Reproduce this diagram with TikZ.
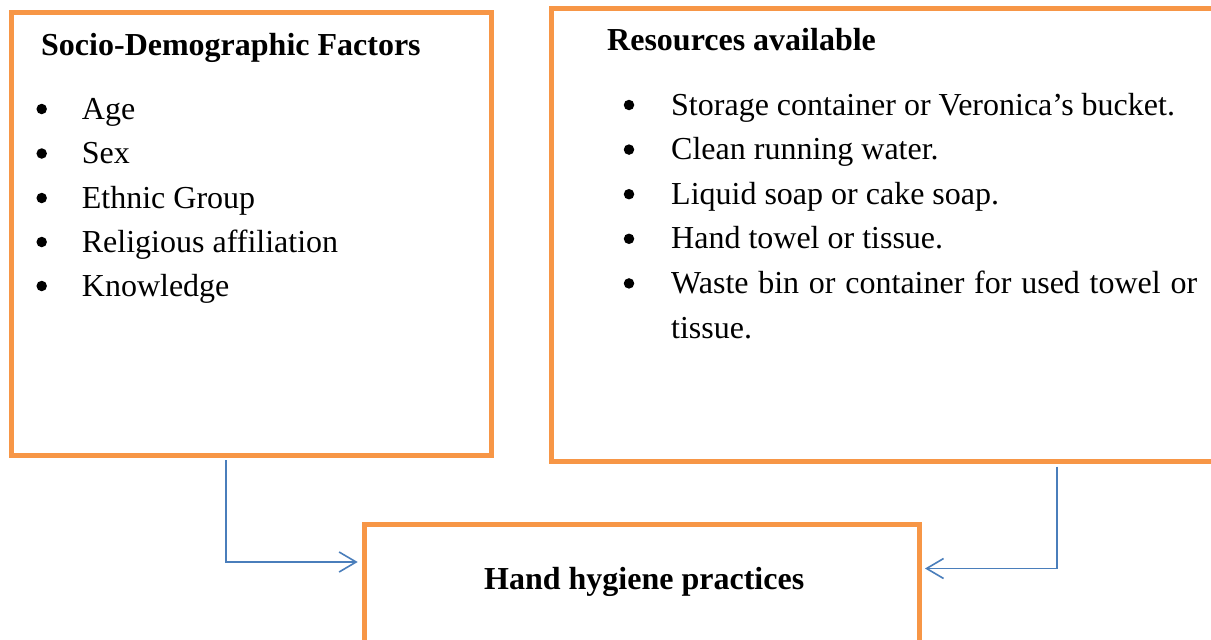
\documentclass[tikz,border=0pt]{standalone}
\usepackage{fontspec}
\setmainfont{Liberation Serif}
\usetikzlibrary{arrows.meta,calc}
\definecolor{boxorange}{HTML}{F79646}
\definecolor{arrowblue}{HTML}{4A7EBB}
\begin{document}
\begin{tikzpicture}[x=1pt,y=-1pt,
  box/.style={draw=boxorange, line width=5pt, inner sep=0pt, outer sep=0pt, anchor=north west},
  ttl/.style={font=\fontsize{32}{38}\selectfont\bfseries, anchor=base west, inner sep=0pt},
  itm/.style={font=\fontsize{32}{38}\selectfont, anchor=base west, inner sep=0pt},
  bul/.style={circle, fill=black, inner sep=0pt, minimum size=10.5pt},
  arr/.style={draw=arrowblue, line width=1.6pt, -{Straight Barb[length=17pt,width=20pt]}}]
\useasboundingbox (0,0) rectangle (1211,640);
\clip (0,0) rectangle (1211,640);
\fill[white] (0,0) rectangle (1211,640);
% boxes
\node[box, minimum width=480pt, minimum height=443.5pt] (sdf) at (11.5,12) {};
\node[box, minimum width=700pt, minimum height=453.5pt] (res) at (551.5,8) {};
\node[box, minimum width=555.5pt, minimum height=200pt] (hhp) at (364,524) {};
% titles
\node[ttl] (sdft) at (41,55.5) {Socio-Demographic Factors};
\node[ttl] (rest) at (607,50) {Resources available};
\node[ttl] (hhpt) at (484,589.5) {Hand hygiene practices};
% left list
\node[bul] (lb1) at (41.7,109) {};
\node[bul] (lb2) at (41.7,153.5) {};
\node[bul] (lb3) at (41.7,198) {};
\node[bul] (lb4) at (41.7,242) {};
\node[bul] (lb5) at (41.7,286) {};
\node[itm] (li1) at (81.7,119) {Age};
\node[itm] (li2) at (81.7,163.5) {Sex};
\node[itm] (li3) at (81.7,208) {Ethnic Group};
\node[itm] (li4) at (81.7,252) {Religious affiliation};
\node[itm] (li5) at (81.7,296) {Knowledge};
% right list
\node[bul] (rb1) at (629,105) {};
\node[bul] (rb2) at (629,149.6) {};
\node[bul] (rb3) at (629,194.2) {};
\node[bul] (rb4) at (629,238.8) {};
\node[bul] (rb5) at (629,283.4) {};
\node[itm] (ri1) at (671,115) {Storage container or Veronica’s bucket.};
\node[itm] (ri2) at (671,159.6) {Clean running water.};
\node[itm] (ri3) at (671,204.2) {Liquid soap or cake soap.};
\node[itm] (ri4) at (671,248.8) {Hand towel or tissue.};
\node[itm] (ri5) at (671,293.4) {\makebox[526pt][s]{Waste bin or container for used towel or}};
\node[itm] (ri6) at (671,338) {tissue.};
% arrows
\draw[arr] ($(sdf.south west)+(214.2,4.5)$) |- ($(hhp.north west)+(-6.3,38)$);
\draw[arr] ($(res.south west)+(505.2,5.2)$) |- ($(hhp.north east)+(5.5,44.5)$);
\end{tikzpicture}
\end{document}
